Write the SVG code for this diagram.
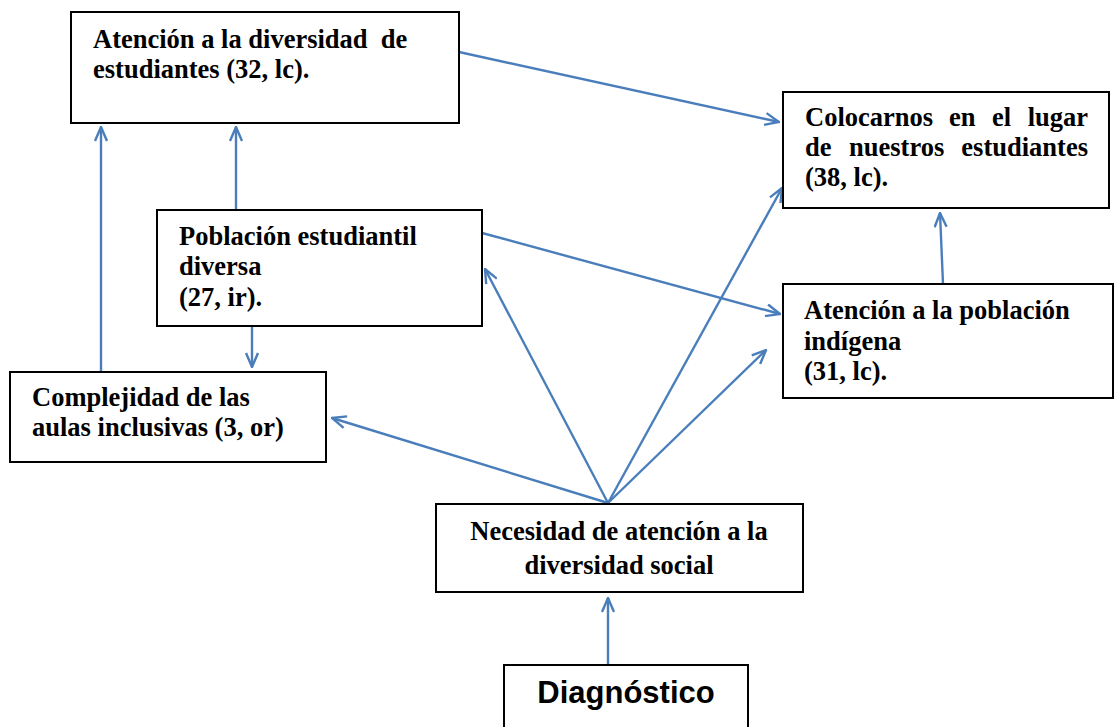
<svg xmlns="http://www.w3.org/2000/svg" width="1116" height="727" viewBox="0 0 1116 727">
<style>
.box{fill:#ffffff;stroke:#000000;stroke-width:2}
.t{font-family:"Liberation Serif","Times New Roman",serif;font-weight:bold;font-size:26.5px;fill:#000000;white-space:pre}
.ts{font-family:"Liberation Sans",Arial,sans-serif;font-weight:bold;font-size:31px;fill:#000000}
.c{fill:none;stroke:#4A7EBB;stroke-width:2.4;marker-end:url(#ah)}
</style>
<defs>
<marker id="ah" viewBox="0 0 16 14" refX="15" refY="7" markerWidth="16" markerHeight="14" orient="auto" markerUnits="userSpaceOnUse">
<path d="M1,1 L15,7 L1,13" fill="none" stroke="#4A7EBB" stroke-width="2.4"/>
</marker>
</defs>
<rect width="1116" height="727" fill="#ffffff"/>
<g id="connectors">
<line class="c" x1="459" y1="52" x2="779" y2="122"/>
<line class="c" x1="101" y1="371" x2="101" y2="127"/>
<line class="c" x1="236" y1="210" x2="236" y2="127"/>
<line class="c" x1="252" y1="327" x2="252" y2="367"/>
<line class="c" x1="482" y1="233" x2="780" y2="314"/>
<line class="c" x1="943" y1="284" x2="940" y2="213"/>
<line class="c" x1="608" y1="503" x2="332" y2="418"/>
<line class="c" x1="608" y1="503" x2="485" y2="269"/>
<line class="c" x1="608" y1="503" x2="782" y2="188"/>
<line class="c" x1="608" y1="503" x2="766" y2="350"/>
<line class="c" x1="608" y1="665" x2="608" y2="598"/>
</g>
<g id="n1">
<rect class="box" x="71" y="12" width="388" height="111"/>
<text class="t" x="93" y="48">Atención a la diversidad  de</text>
<text class="t" x="93" y="78">estudiantes (32, lc).</text>
</g>
<g id="n2">
<rect class="box" x="783" y="92" width="326" height="116"/>
<text class="t" x="805" y="126">Colocarnos</text>
<text class="t" x="949" y="126">en</text>
<text class="t" x="992" y="126">el</text>
<text class="t" x="1088" y="126" text-anchor="end">lugar</text>
<text class="t" x="805" y="156">de</text>
<text class="t" x="849" y="156">nuestros</text>
<text class="t" x="1088" y="156" text-anchor="end">estudiantes</text>
<text class="t" x="805" y="186">(38, lc).</text>
</g>
<g id="n3">
<rect class="box" x="157" y="210" width="325" height="116"/>
<text class="t" x="179" y="245">Población estudiantil</text>
<text class="t" x="179" y="275">diversa</text>
<text class="t" x="179" y="306">(27, ir).</text>
</g>
<g id="n4">
<rect class="box" x="783" y="284" width="330" height="114"/>
<text class="t" x="804" y="319">Atención a la población</text>
<text class="t" x="804" y="350">indígena</text>
<text class="t" x="804" y="380">(31, lc).</text>
</g>
<g id="n5">
<rect class="box" x="10" y="372" width="316" height="90"/>
<text class="t" x="32" y="406">Complejidad de las</text>
<text class="t" x="32" y="436">aulas inclusivas (3, or)</text>
</g>
<g id="n6">
<rect class="box" x="436" y="504" width="367" height="88"/>
<text class="t" x="619" y="540" text-anchor="middle">Necesidad de atención a la</text>
<text class="t" x="619" y="574" text-anchor="middle">diversidad social</text>
</g>
<g id="n7">
<rect class="box" x="504" y="665" width="244" height="80"/>
<text class="ts" x="626" y="703" text-anchor="middle">Diagnóstico</text>
</g>
</svg>
